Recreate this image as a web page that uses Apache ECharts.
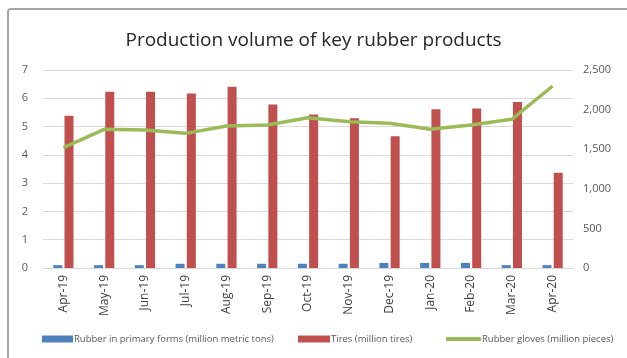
<!DOCTYPE html>
<html><head><meta charset="utf-8">
<script src="https://cdn.jsdelivr.net/npm/echarts@6/dist/echarts.min.js"></script>
<style>html,body{margin:0;padding:0;background:#fff}#c{width:627px;height:358px}</style>
</head><body><div id="c"></div>
<script>
const categories = ['Apr-19','May-19','Jun-19','Jul-19','Aug-19','Sep-19','Oct-19','Nov-19','Dec-19','Jan-20','Feb-20','Mar-20','Apr-20'];
const rubberPrimary = [0.10,0.10,0.10,0.15,0.15,0.15,0.15,0.15,0.18,0.18,0.18,0.10,0.10];
const tires = [5.38,6.23,6.23,6.17,6.41,5.78,5.43,5.29,4.66,5.61,5.64,5.87,3.37];
const gloves = [1519,1751,1742,1700,1793,1806,1898,1848,1827,1751,1806,1877,2298];
const leftTicks = {min:0,max:7,interval:1};
const rightTicks = {min:0,max:2500,interval:500};
const names = ['Rubber in primary forms (million metric tons)','Tires (million tires)','Rubber gloves (million pieces)'];

const chart = echarts.init(document.getElementById('c'), null, {renderer:'canvas'});
const font = 'Open Sans, Noto Sans, sans-serif';
const legendText = {color:'#595959', fontSize:9.5, fontFamily:font, padding:[0,0,0,-4]};
chart.setOption({
  animation:false,
  backgroundColor:'#fff',
  graphic:[{type:'rect', shape:{x:8,y:9,width:640,height:360,r:3}, style:{fill:'none', stroke:'#a6a6a6', lineWidth:2}}],
  title:{text:'Production volume of key rubber products', left:'center', top:26,
    textStyle:{fontFamily:font, fontSize:19, fontWeight:'normal', color:'#262626'}},
  legend:[
    {data:[{name:names[0], icon:'rect'}], left:37, top:329, itemWidth:31, itemHeight:7, textStyle:legendText},
    {data:[{name:names[1], icon:'rect'}], left:293, top:329, itemWidth:32, itemHeight:7, textStyle:legendText},
    {data:[{name:names[2], icon:'roundRect'}], left:441, top:329, itemWidth:35, itemHeight:4, textStyle:legendText}
  ],
  grid:{left:43, right:54, top:70, bottom:90},
  xAxis:{type:'category', data:categories,
    axisLine:{lineStyle:{color:'#d9d9d9'}}, axisTick:{show:false},
    axisLabel:{rotate:90, color:'#404040', fontSize:12, fontFamily:font, margin:7}},
  yAxis:[
    {type:'value', min:leftTicks.min, max:leftTicks.max, interval:leftTicks.interval,
      axisLine:{show:false}, axisTick:{show:false},
      splitLine:{lineStyle:{color:'#d9d9d9'}},
      axisLabel:{color:'#595959', fontSize:11, fontFamily:font, margin:15}},
    {type:'value', min:rightTicks.min, max:rightTicks.max, interval:rightTicks.interval,
      axisLine:{show:false}, axisTick:{show:false}, splitLine:{show:false},
      axisLabel:{color:'#595959', fontSize:11, fontFamily:font, margin:10,
        formatter:v=>v.toLocaleString('en-US')}}
  ],
  series:[
    {name:names[0], type:'bar', data:rubberPrimary, barWidth:9, barGap:'25%', itemStyle:{color:'#4F81BD'}},
    {name:names[1], type:'bar', data:tires, barWidth:9, barGap:'25%', itemStyle:{color:'#C0504D'}},
    {name:names[2], type:'line', yAxisIndex:1, data:gloves, symbol:'none', showSymbol:false,
      lineStyle:{color:'#9BBB59', width:3.5}, itemStyle:{color:'#9BBB59'}}
  ]
});
</script></body></html>
